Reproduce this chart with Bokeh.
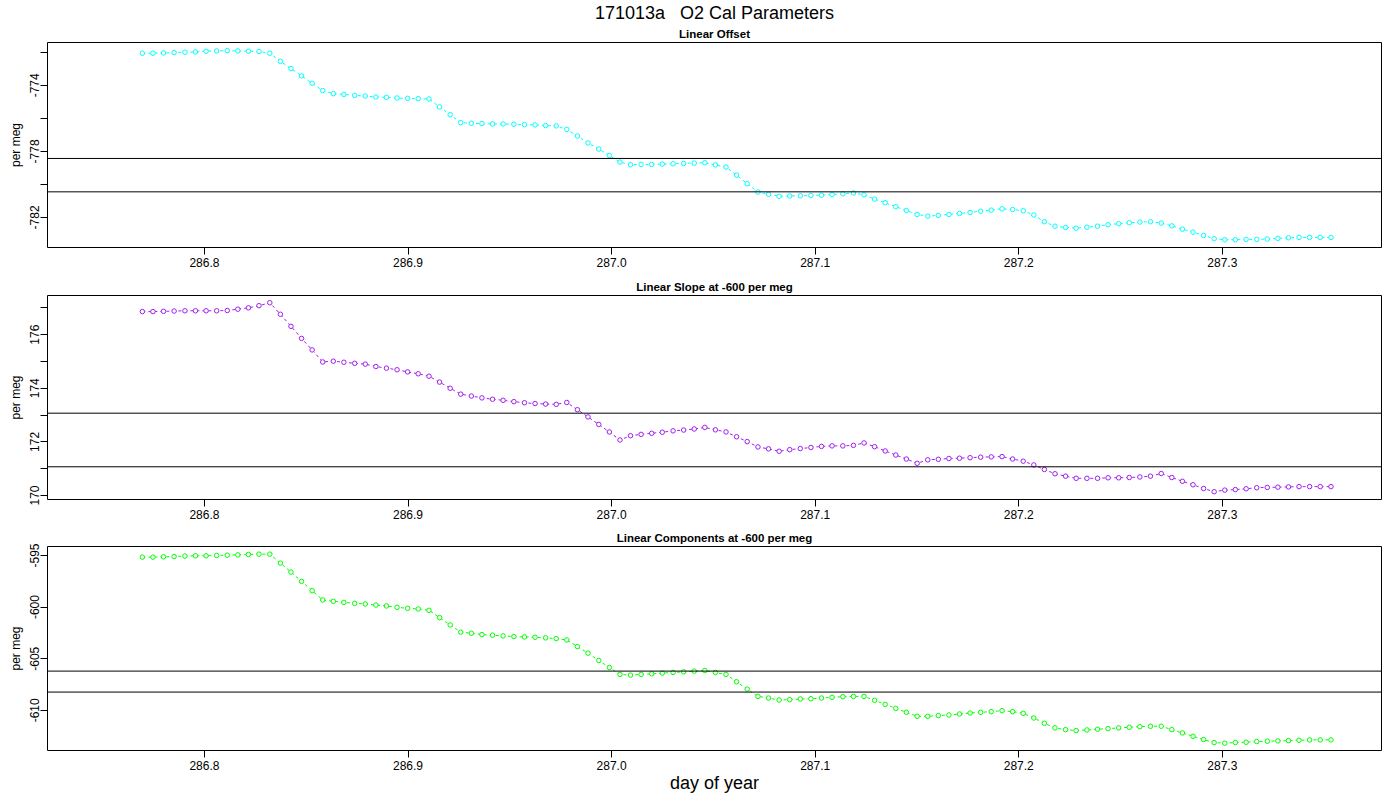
from bokeh.plotting import figure
from bokeh.models import Title, Span, FixedTicker, Range1d
from bokeh.layouts import column
from bokeh.embed import file_html
from bokeh.resources import INLINE

FONT = "Liberation Sans"

main_title = "171013a\u00a0\u00a0 O2 Cal Parameters"
x_label = "day of year"
y_label = "per meg"

day = [
    286.7695, 286.7747, 286.7799, 286.7851, 286.7904, 286.7956, 286.8008, 286.8060, 286.8112, 286.8164,
    286.8216, 286.8268, 286.8321, 286.8373, 286.8425, 286.8477, 286.8529, 286.8581, 286.8633, 286.8685,
    286.8738, 286.8790, 286.8842, 286.8894, 286.8946, 286.8998, 286.9050, 286.9103, 286.9155, 286.9207,
    286.9259, 286.9311, 286.9363, 286.9415, 286.9467, 286.9520, 286.9572, 286.9624, 286.9676, 286.9728,
    286.9780, 286.9832, 286.9884, 286.9937, 286.9989, 287.0041, 287.0093, 287.0145, 287.0197, 287.0249,
    287.0302, 287.0354, 287.0406, 287.0458, 287.0510, 287.0562, 287.0614, 287.0666, 287.0719, 287.0771,
    287.0823, 287.0875, 287.0927, 287.0979, 287.1031, 287.1083, 287.1136, 287.1188, 287.1240, 287.1292,
    287.1344, 287.1396, 287.1448, 287.1501, 287.1553, 287.1605, 287.1657, 287.1709, 287.1761, 287.1813,
    287.1865, 287.1918, 287.1970, 287.2022, 287.2074, 287.2126, 287.2178, 287.2230, 287.2282, 287.2335,
    287.2387, 287.2439, 287.2491, 287.2543, 287.2595, 287.2647, 287.2700, 287.2752, 287.2804, 287.2856,
    287.2908, 287.2960, 287.3012, 287.3064, 287.3117, 287.3169, 287.3221, 287.3273, 287.3325, 287.3377,
    287.3429, 287.3481, 287.3534,
]

linear_offset = [
    -772.06, -772.06, -772.04, -772.02, -772.00, -771.98, -771.94, -771.92, -771.90, -771.92,
    -771.94, -771.96, -772.06, -772.55, -772.99, -773.43, -773.88, -774.32, -774.51, -774.55,
    -774.61, -774.65, -774.71, -774.73, -774.77, -774.79, -774.81, -774.83, -775.31, -775.78,
    -776.26, -776.30, -776.32, -776.34, -776.34, -776.36, -776.38, -776.40, -776.44, -776.46,
    -776.67, -777.07, -777.49, -777.86, -778.25, -778.65, -778.81, -778.79, -778.79, -778.77,
    -778.75, -778.73, -778.71, -778.69, -778.82, -778.95, -779.44, -779.96, -780.46, -780.60,
    -780.72, -780.70, -780.69, -780.67, -780.65, -780.61, -780.57, -780.52, -780.63, -780.89,
    -781.11, -781.35, -781.58, -781.82, -781.92, -781.88, -781.82, -781.76, -781.70, -781.62,
    -781.56, -781.48, -781.52, -781.60, -781.85, -782.26, -782.53, -782.61, -782.65, -782.59,
    -782.53, -782.44, -782.38, -782.32, -782.28, -782.26, -782.34, -782.51, -782.71, -782.89,
    -783.09, -783.29, -783.35, -783.35, -783.33, -783.33, -783.31, -783.27, -783.23, -783.21,
    -783.21, -783.21, -783.21,
]

linear_slope = [
    176.86, 176.86, 176.87, 176.88, 176.89, 176.89, 176.89, 176.89, 176.90, 176.95,
    177.00, 177.08, 177.19, 176.76, 176.31, 175.86, 175.43, 174.98, 175.01, 174.97,
    174.93, 174.90, 174.81, 174.75, 174.69, 174.61, 174.54, 174.45, 174.23, 174.00,
    173.78, 173.71, 173.64, 173.59, 173.55, 173.50, 173.46, 173.43, 173.41, 173.40,
    173.47, 173.20, 172.93, 172.65, 172.37, 172.07, 172.23, 172.28, 172.32, 172.36,
    172.41, 172.44, 172.48, 172.54, 172.45, 172.37, 172.19, 172.01, 171.81, 171.74,
    171.65, 171.71, 171.75, 171.79, 171.83, 171.85, 171.85, 171.87, 171.96, 171.82,
    171.66, 171.51, 171.36, 171.20, 171.33, 171.35, 171.38, 171.39, 171.41, 171.43,
    171.44, 171.45, 171.36, 171.28, 171.14, 170.97, 170.81, 170.72, 170.64, 170.64,
    170.64, 170.66, 170.66, 170.67, 170.69, 170.72, 170.82, 170.67, 170.53, 170.40,
    170.26, 170.14, 170.20, 170.22, 170.25, 170.29, 170.30, 170.31, 170.32, 170.33,
    170.33, 170.33, 170.33,
]

linear_components = [
    -595.16, -595.16, -595.13, -595.10, -595.06, -595.03, -595.03, -595.00, -594.97, -594.94,
    -594.90, -594.87, -594.87, -595.74, -596.61, -597.51, -598.41, -599.31, -599.44, -599.54,
    -599.63, -599.70, -599.80, -599.89, -600.02, -600.12, -600.18, -600.31, -601.02, -601.73,
    -602.43, -602.53, -602.66, -602.72, -602.79, -602.85, -602.89, -602.92, -602.98, -603.05,
    -603.18, -603.82, -604.46, -605.17, -605.85, -606.52, -606.59, -606.52, -606.46, -606.39,
    -606.33, -606.27, -606.20, -606.14, -606.33, -606.52, -607.23, -607.94, -608.65, -608.81,
    -609.00, -608.97, -608.90, -608.87, -608.81, -608.74, -608.68, -608.65, -608.65, -609.03,
    -609.42, -609.81, -610.19, -610.58, -610.58, -610.51, -610.45, -610.35, -610.26, -610.19,
    -610.13, -610.03, -610.13, -610.29, -610.74, -611.25, -611.70, -611.87, -611.96, -611.90,
    -611.83, -611.77, -611.70, -611.64, -611.58, -611.54, -611.54, -611.87, -612.19, -612.51,
    -612.83, -613.12, -613.18, -613.12, -613.09, -613.02, -612.99, -612.96, -612.93, -612.90,
    -612.86, -612.86, -612.86,
]

offset_limits = [-778.43, -780.45]
slope_limits = [173.07, 171.07]
components_limits = [-606.20, -608.23]

x_ticks = [286.8, 286.9, 287.0, 287.1, 287.2, 287.3]
x_tick_labels = ["286.8", "286.9", "287.0", "287.1", "287.2", "287.3"]

offset_ticks = [-782, -780, -778, -776, -774, -772]
offset_tick_labels = ["-782", "", "-778", "", "-774", ""]
slope_ticks = [170, 171, 172, 173, 174, 175, 176, 177]
slope_tick_labels = ["170", "", "172", "", "174", "", "176", ""]
components_ticks = [-610, -605, -600, -595]
components_tick_labels = ["-610", "-605", "-600", "-595"]

x_range = Range1d(286.7229, 287.3782)


def make_panel(subtitle, y, color, limits, yr, yticks, ylabels, top, fh, bottom,
               main=None, xlabel=None):
    p = figure(frame_width=1334, frame_height=fh,
               min_border_left=47, min_border_right=19,
               min_border_top=top, min_border_bottom=bottom,
               x_range=x_range, y_range=Range1d(*yr),
               output_backend="svg", toolbar_location=None,
               background_fill_color="white", border_fill_color="white")
    sub_kw = dict(text_font=FONT, text_font_size="11.5px", text_font_style="bold",
                  text_color="black", align="center", standoff=6, offset=-4)
    if main is not None:
        p.title.text = main
        p.title.text_font = FONT
        p.title.text_font_size = "18px"
        p.title.text_font_style = "normal"
        p.title.text_color = "black"
        p.title.align = "center"
        p.title.standoff = 0
        p.title.offset = -8
        p.add_layout(Title(text=subtitle, **sub_kw), "above")
    else:
        p.title.text = subtitle
        for k, v in sub_kw.items():
            setattr(p.title, k, v)
    p.grid.visible = False
    p.outline_line_color = "black"
    p.outline_line_width = 1

    for ax in (p.xaxis[0], p.yaxis[0]):
        ax.axis_line_color = None
        ax.major_tick_line_color = "black"
        ax.major_tick_out = 7
        ax.major_tick_in = 0
        ax.minor_tick_line_color = None
        ax.major_label_text_font = FONT
        ax.major_label_text_font_size = "12px"
        ax.major_label_text_color = "black"

    p.xaxis.ticker = FixedTicker(ticks=x_ticks)
    p.xaxis.major_label_overrides = {t: s for t, s in zip(x_ticks, x_tick_labels)}
    p.xaxis.major_label_standoff = 3
    if xlabel is not None:
        p.xaxis.axis_label = xlabel
        p.xaxis.axis_label_text_font = FONT
        p.xaxis.axis_label_text_font_size = "18px"
        p.xaxis.axis_label_text_font_style = "normal"
        p.xaxis.axis_label_text_color = "black"
        p.xaxis.axis_label_standoff = 0

    p.yaxis.ticker = FixedTicker(ticks=yticks)
    p.yaxis.major_label_overrides = {t: s for t, s in zip(yticks, ylabels)}
    p.yaxis.major_label_orientation = "parallel"
    p.yaxis.major_label_standoff = 1
    p.yaxis.axis_label = y_label
    p.yaxis.axis_label_text_font = FONT
    p.yaxis.axis_label_text_font_size = "12px"
    p.yaxis.axis_label_text_font_style = "normal"
    p.yaxis.axis_label_text_color = "black"
    p.yaxis.axis_label_standoff = 5

    for v in limits:
        p.add_layout(Span(location=v, dimension="width", line_color="black",
                          line_width=1))

    p.line(day, y, line_color=color, line_width=1, line_dash="3 3")
    p.scatter(day, y, marker="circle", size=4.5, fill_color="white",
              line_color=color, line_width=1)
    return p


p1 = make_panel("Linear Offset", linear_offset, "#00FFFF", offset_limits,
                (-783.82, -771.41), offset_ticks, offset_tick_labels,
                top=42, fh=205, bottom=28, main=main_title)
p2 = make_panel("Linear Slope at -600 per meg", linear_slope, "#A020F0", slope_limits,
                (169.85, 177.46), slope_ticks, slope_tick_labels,
                top=18, fh=204, bottom=27)
p3 = make_panel("Linear Components at -600 per meg", linear_components, "#00FF00",
                components_limits, (-613.89, -594.13), components_ticks,
                components_tick_labels, top=18, fh=204, bottom=46, xlabel=x_label)

layout = column(p1, p2, p3, spacing=0)
open("out.html", "w").write(file_html(layout, INLINE))
